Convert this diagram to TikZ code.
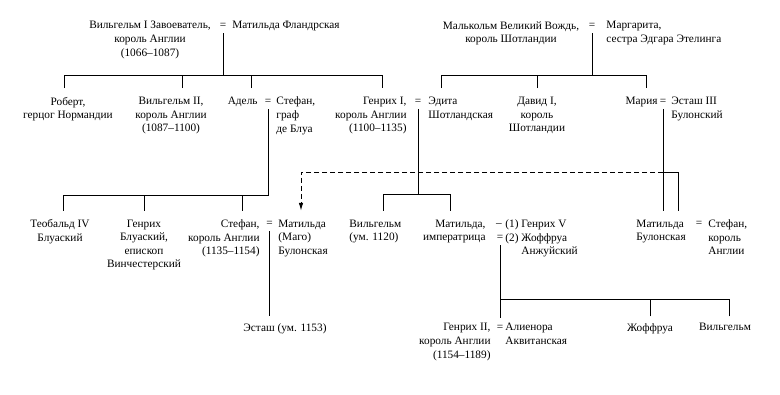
\documentclass[tikz,border=0pt]{standalone}
\usepackage{fontspec}
\setmainfont{Liberation Serif}
\usepackage{tikz}
\usetikzlibrary{positioning,calc,arrows.meta}

\begin{document}
\begin{tikzpicture}[x=1pt, y=-1pt, line width=0.9pt,
    font=\fontsize{11.3}{13.6}\selectfont,
    person/.style={inner xsep=0pt, inner ysep=8.5pt},
    lowrow/.style={inner xsep=0pt, inner ysep=6.5pt},
    eq/.style={inner sep=0pt, text height=7.4pt, text depth=0pt, minimum height=16pt}]
  \useasboundingbox (0,0) rectangle (780,395);

  % Generation 1
  \node[person, align=center, anchor=north] (wilhelmI) at (150,12.5) {Вильгельм I Завоеватель,\\король Англии\\(1066–1087)};
  \node[eq] (eqA) at (223,24.7) {=};
  \node[person, align=left, anchor=north west] (matildaF) at (232,12.5) {Матильда Фландрская};
  \node[person, align=center, anchor=north] (malcolm) at (511,12.5) {Малькольм Великий Вождь,\\король Шотландии};
  \node[eq] (eqB) at (592,24.7) {=};
  \node[person, align=left, anchor=north west] (margaret) at (606,12.5) {Маргарита,\\сестра Эдгара Этелинга};

  % Generation 2
  \node[person, align=center, anchor=north] (robert) at (68,88.2) {Роберт,\\герцог Нормандии};
  \node[person, align=center, anchor=north] (wilhelmII) at (171,88.2) {Вильгельм II,\\король Англии\\(1087–1100)};
  \node[person, anchor=north east] (adele) at (258,88.2) {Адель};
  \node[eq] (eqC) at (268,100.5) {=};
  \node[person, align=left, anchor=north west] (stephanB) at (276,88.2) {Стефан,\\граф\\де Блуа};
  \node[person, align=right, anchor=north east] (henryI) at (407,88.2) {Генрих I,\\король Англии\\(1100–1135)};
  \node[eq] (eqD) at (418,100.5) {=};
  \node[person, align=left, anchor=north west] (edith) at (428,88.2) {Эдита\\Шотландская};
  \node[person, align=center, anchor=north] (david) at (537,88.2) {Давид I,\\король\\Шотландии};
  \node[person, anchor=north east] (maria) at (658,88.2) {Мария};
  \node[eq] (eqE) at (663,100.5) {=};
  \node[person, align=left, anchor=north west] (eustaceIII) at (671,88.2) {Эсташ III\\Булонский};

  % Generation 3
  \node[person, align=center, anchor=north] (theobald) at (60,210.8) {Теобальд IV\\Блуаский};
  \node[person, align=center, anchor=north] (henryB) at (144,210.8) {Генрих\\Блуаский,\\епископ\\Винчестерский};
  \node[person, align=right, anchor=north east] (stephan) at (260,210.8) {Стефан,\\король Англии\\(1135–1154)};
  \node[eq] (eqF) at (269.5,223) {=};
  \node[person, align=left, anchor=north west] (matildaM) at (278,210.8) {Матильда\\(Маго)\\Булонская};
  \node[person, align=left, anchor=north west] (wilhelmA) at (349,210.8) {Вильгельм\\(ум. 1120)};
  \node[person, align=right, anchor=north east] (matildaE) at (486,210.8) {Матильда,\\императрица};
  \node[eq] (eqG) at (499,223) {–};
  \node[eq] (eqH) at (500,236.6) {=};
  \node[person, align=left, anchor=north west] (husbands) at (505,210.8) {(1) Генрих V\\(2) Жоффруа\\\hphantom{(2) }Анжуйский};
  \node[person, align=left, anchor=north west] (matildaB) at (636,210.8) {Матильда\\Булонская};
  \node[eq] (eqI) at (699,223) {=};
  \node[person, align=left, anchor=north west] (stephanK) at (708,210.8) {Стефан,\\король\\Англии};

  % Generation 4
  \node[lowrow, anchor=north] (eustace) at (285,316.5) {Эсташ (ум. 1153)};
  \node[lowrow, align=right, anchor=north east] (henryII) at (491,316.5) {Генрих II,\\король Англии\\(1154–1189)};
  \node[eq] (eqJ) at (500,326.6) {=};
  \node[lowrow, align=left, anchor=north west] (eleanor) at (505,316.5) {Алиенора\\Аквитанская};
  \node[lowrow, anchor=north] (geoffrey) at (650,316.5) {Жоффруа};
  \node[lowrow, anchor=north] (wilhelmB) at (725,316.5) {Вильгельм};

  % Children of Wilhelm I
  \draw (eqA.south) -- ++(0,42.3);
  \draw ([xshift=-4pt]robert.north) -- ++(0,-13.2) -| ([xshift=-25pt]henryI.north east);
  \draw ([xshift=11pt]wilhelmII.north) -- ++(0,-13.2);
  \draw ([xshift=-7pt]adele.north east) -- ++(0,-13.2);

  % Children of Malcolm
  \draw (eqB.south) -- ++(0,42.3);
  \draw ([xshift=13pt]edith.north west) -- ++(0,-13.2) -| ([xshift=-12pt]maria.north east);
  \draw (david.north) -- ++(0,-13.2);

  % Children of Adele
  \draw ([xshift=3pt]theobald.north) -- ++(0,-15.8) -| (eqC.south);
  \draw (henryB.north) -- ++(0,-15.8);
  \draw ([xshift=-18pt]stephan.north east) -- ++(0,-15.8);

  % Children of Henry I
  \draw (eqD.south) -- ++(0,85.5);
  \draw ([xshift=34pt]wilhelmA.north west) -- ++(0,-16.8) -| ([xshift=-36pt]matildaE.north east);

  % Children of Maria
  \draw (eqE.south) -- (eqE.south |- matildaB.north);
  \draw ([xshift=42pt]matildaB.north west) -- ++(0,-38.8) -- ++(-15,0) coordinate (link);
  \draw[dashed, dash pattern=on 5pt off 3pt, -{Latex[length=8pt,width=4.5pt]}] (link) -| ([xshift=23pt]matildaM.north west);

  % Children of Stephan and Matilda
  \draw (eqF.south) -- (eqF.south |- eustace.north);

  % Children of Matilda and Geoffrey
  \draw (eqH.south) -- (eqJ.north);
  \draw ([xshift=4pt]wilhelmB.north) -- ++(0,-17.5) -| (eqH.south);
  \draw (geoffrey.north) -- ++(0,-17.5);
\end{tikzpicture}
\end{document}
